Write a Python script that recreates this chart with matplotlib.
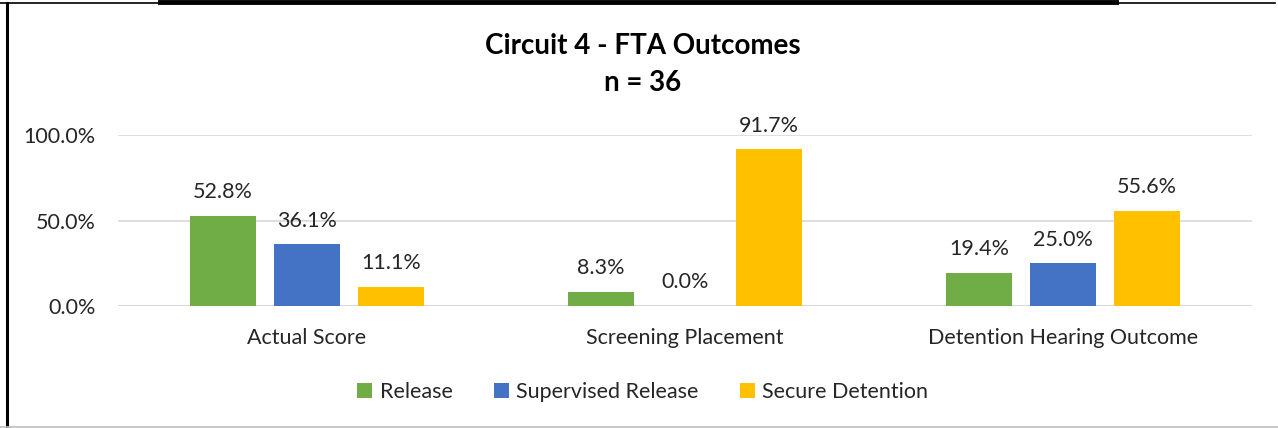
import matplotlib.pyplot as plt
import numpy as np
from matplotlib.lines import Line2D

categories = ['Actual Score', 'Screening Placement', 'Detention Hearing Outcome']
series_names = ['Release', 'Supervised Release', 'Secure Detention']
release = [52.8, 8.3, 19.4]
supervised = [36.1, 0.0, 25.0]
secure = [11.1, 91.7, 55.6]
colors = ['#70AD47', '#4472C4', '#FFC000']

plt.rcParams['font.family'] = ['Lato', 'DejaVu Sans']

fig = plt.figure(figsize=(12.78, 4.28), dpi=100)
ax = fig.add_axes([0.0923, 0.285, 0.8874, 0.3996])

x = np.arange(len(categories))
width = 0.175
step = 0.222
for i, (vals, name) in enumerate(zip([release, supervised, secure], series_names)):
    pos = x + (i - 1) * step
    bars = ax.bar(pos, vals, width, color=colors[i], label=name, zorder=3)
    for b, v in zip(bars, vals):
        ax.text(b.get_x() + b.get_width() / 2, v + 8, '%.1f%%' % v,
                ha='center', va='bottom', fontsize=15.5, color='#262626')

ax.set_xlim(-0.5, 2.5)
ax.set_ylim(0, 100)
ax.set_yticks([0, 50, 100])
ax.set_yticklabels(['0.0%', '50.0%', '100.0%'])
ax.set_xticks(x)
ax.set_xticklabels(categories)
ax.tick_params(axis='both', length=0, labelsize=15.5, labelcolor='#262626')
ax.tick_params(axis='x', pad=16)
ax.tick_params(axis='y', pad=16)
ax.grid(axis='y', color='#D9D9D9', linewidth=1.2, zorder=0)
for s in ax.spines.values():
    s.set_visible(False)
ax.axhline(0, color='#D9D9D9', linewidth=1.5, zorder=2)

fig.text(0.503, 0.893, 'Circuit 4 - FTA Outcomes', ha='center', va='center',
         fontsize=20, fontweight='bold', color='black')
fig.text(0.503, 0.805, 'n = 36', ha='center', va='center',
         fontsize=20, fontweight='bold', color='black')

fig.legend(loc='center', bbox_to_anchor=(0.503, 0.085), ncol=3, frameon=False,
           fontsize=15.5, handlelength=0.7, handleheight=0.7, columnspacing=1.9,
           handletextpad=0.35, labelcolor='#262626')

# frame edges of the original screenshot
fig.add_artist(Line2D([0.125, 0.873], [0.996, 0.996], color='black', linewidth=3.5, transform=fig.transFigure))
fig.add_artist(Line2D([0.0, 0.998], [0.992, 0.992], color='black', linewidth=1.2, transform=fig.transFigure))
fig.add_artist(Line2D([0.0055, 0.0055], [0.0, 0.992], color='black', linewidth=2.2, transform=fig.transFigure))
fig.add_artist(Line2D([0.0, 1.0], [0.002, 0.002], color='#BFBFBF', linewidth=1.2, transform=fig.transFigure))

fig.savefig('out.png', dpi=100)
